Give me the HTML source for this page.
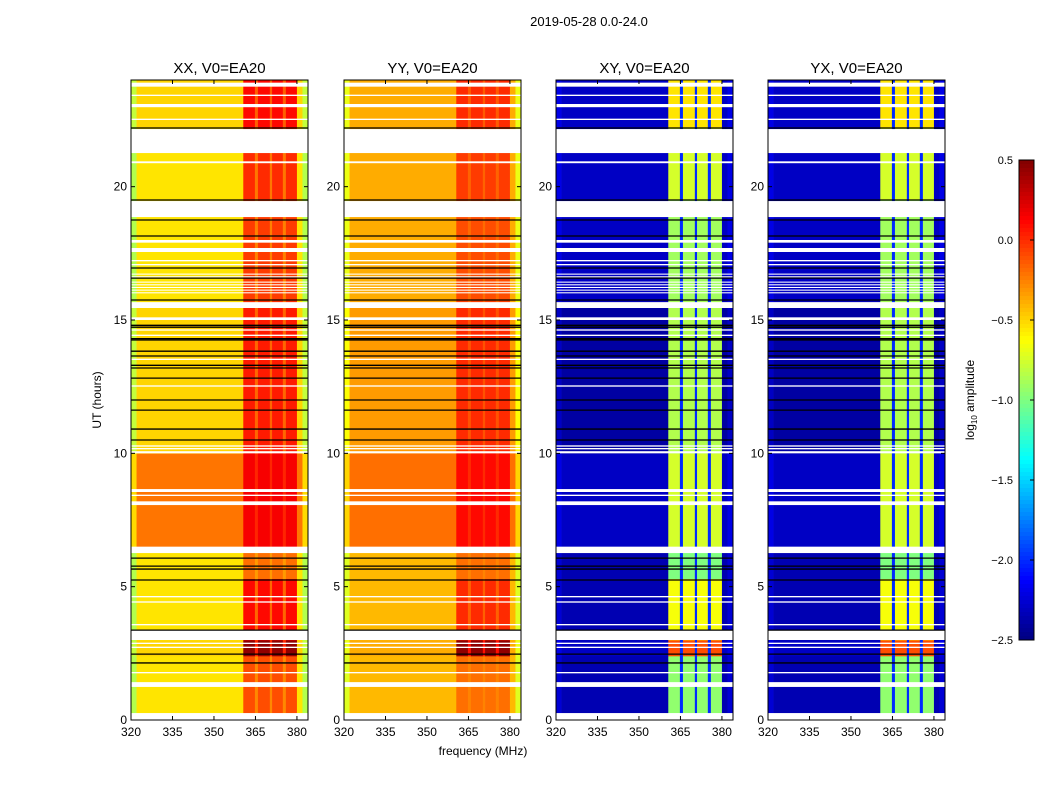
<!DOCTYPE html>
<html><head><meta charset="utf-8"><style>
body{margin:0;background:#fff;}
svg{display:block;font-family:"Liberation Sans","DejaVu Sans",sans-serif;}
</style></head><body>
<svg id="fig" width="1050" height="800" xmlns="http://www.w3.org/2000/svg">
<text x="589" y="26" font-size="13" text-anchor="middle">2019-05-28 0.0-24.0</text>
<text x="483" y="755" font-size="12" text-anchor="middle">frequency (MHz)</text>
<text transform="translate(101,400) rotate(-90)" font-size="12" text-anchor="middle">UT (hours)</text>
<g id="panels"></g>
<g id="cbar"></g>
</svg>
<script>
// ---- data ----
const panelTitles = ["XX, V0=EA20","YY, V0=EA20","XY, V0=EA20","YX, V0=EA20"];
const xTicks = [320,335,350,365,380];
const yTicks = [0,5,10,15,20];
const cbarTicks = [0.5,0.0,-0.5,-1.0,-1.5,-2.0,-2.5];
// time blocks [start, end]
const blockStart = [0,2.4,3.0,5.3,6.5,10,15.7,19.5,22.2];
const blockEnd   = [2.4,3.0,5.3,6.5,10,15.7,19.5,22.2,24];
// per-panel off-band level and in-band level per block
const offXX  = [-0.55,-0.5,-0.55,-0.55,-0.22,-0.5,-0.55,-0.55,-0.5];
const bandXX = [-0.1,0.45,0.1,-0.2,0.15,0.05,-0.05,0.0,0.1];
const offYY  = [-0.42,-0.38,-0.42,-0.42,-0.2,-0.33,-0.38,-0.38,-0.38];
const bandYY = [-0.2,0.45,0.0,-0.2,0.1,0.0,-0.1,-0.05,0.0];
const offXY  = [-2.35,-2.3,-2.35,-2.35,-2.3,-2.4,-2.3,-2.3,-2.3];
const bandXY = [-0.95,-0.1,-0.65,-1.0,-0.75,-0.85,-0.9,-0.75,-0.55];
// frequency columns: edges and type (0 edge,1 off,2 band,3 gap)
const freqStart = [320,322,360.6,364.8,365.9,370.2,371,374.9,376,380,382];
const freqEnd   = [322,360.6,364.8,365.9,370.2,371,374.9,376,380,382,384];
const freqType  = [0,1,2,3,2,3,2,3,2,1,0];
// flagged (white) intervals in hours
const gapStart = [23.75,23.4,22.98,22.5,21.26,20.88,18.86,17.9,17.55,17.2,17.05,16.7,16.6,16.4,16.3,16.2,16.1,16.0,15.45,15.0,14.6,14.4,13.5,12.5,10.25,10.15,10.0,8.55,8.4,8.06,6.26,4.6,4.4,3.55,3.0,2.85,2.7,1.75,1.24,0];
const gapEnd   = [23.9,23.45,23.1,22.55,22.16,20.95,19.46,18.0,17.7,17.25,17.1,16.74,16.64,16.44,16.34,16.24,16.14,16.04,15.67,15.1,14.65,14.45,13.55,12.55,10.3,10.2,10.08,8.66,8.45,8.2,6.5,4.65,4.45,3.6,3.37,2.9,2.75,1.8,1.42,0.26];
// black lines (hours)
const blackLines = [22.2,19.5,18.75,18.15,16.95,16.57,15.75,14.8,14.73,14.3,14.25,13.83,13.65,13.3,13.2,12.82,12.0,11.62,10.91,10.5,6.07,5.77,5.66,5.25,3.37,2.47,2.14];

// ---- layout ----
const NS="http://www.w3.org/2000/svg";
const px0=[131,344,556,768], PW=177, PY0=80, PY1=720;
const fMin=320,fMax=384,tMin=0,tMax=24;
function xs(p,f){return px0[p]+(f-fMin)/(fMax-fMin)*PW;}
function ys(t){return PY1-(t-tMin)/(tMax-tMin)*(PY1-PY0);}
function jet(v){
  let x=(v+2.5)/3; x=Math.max(0,Math.min(1,x));
  const c=t=>Math.max(0,Math.min(1,t));
  const r=c(1.5-Math.abs(4*x-3)), g=c(1.5-Math.abs(4*x-2)), b=c(1.5-Math.abs(4*x-1));
  return `rgb(${Math.round(r*255)},${Math.round(g*255)},${Math.round(b*255)})`;
}
function el(tag,attrs,parent){const e=document.createElementNS(NS,tag);for(const k in attrs)e.setAttribute(k,attrs[k]);parent.appendChild(e);return e;}
const panels=document.getElementById('panels');
const offs=[offXX,offYY,offXY,offXY], bands=[bandXX,bandYY,bandXY,bandXY];
for(let p=0;p<4;p++){
  const g=el('g',{},panels);
  
  
  const cross = p>=2;
  for(let b=0;b<blockStart.length;b++){
    for(let c=0;c<freqStart.length;c++){
      let v, o=offs[p][b], bd=bands[p][b];
      if(freqType[c]===0) v = cross? o+0.1 : o-0.3;
      else if(freqType[c]===1) v=o;
      else if(freqType[c]===2) v=bd;
      else v = cross? -2.0 : (o+bd)/2+0.05;
      const r=el('rect',{x:xs(p,freqStart[c]),y:ys(blockEnd[b]),width:xs(p,freqEnd[c])-xs(p,freqStart[c])+0.3,height:ys(blockStart[b])-ys(blockEnd[b])+0.3,fill:jet(v)},g);
      
      
    }
  }
  for(let i=0;i<gapStart.length;i++){
    const r=el('rect',{x:px0[p],y:ys(gapEnd[i]),width:PW,height:Math.max(1,ys(gapStart[i])-ys(gapEnd[i])),fill:'#fff'},g);
    
    
  }
  for(let i=0;i<blackLines.length;i++){
    const l=el('line',{x1:px0[p],x2:px0[p]+PW,y1:ys(blackLines[i]),y2:ys(blackLines[i]),stroke:'#000','stroke-width':1.3},g);
    
    
  }
  const fr=el('rect',{x:px0[p],y:PY0,width:PW,height:PY1-PY0,fill:'none',stroke:'#000','stroke-width':1},g);
  
  
  const t=el('text',{x:px0[p]+PW/2,y:73,'font-size':15,'text-anchor':'middle'},g);
  t.textContent=panelTitles[p];
  
  
  xTicks.forEach(f=>{
    const x=xs(p,f);
    el('line',{x1:x,x2:x,y1:PY1,y2:PY1-4,stroke:'#000'},g);
    el('line',{x1:x,x2:x,y1:PY0,y2:PY0+4,stroke:'#000'},g);
    const tl=el('text',{x:x,y:736,'font-size':12,'text-anchor':'middle'},g);
    tl.textContent=f;
    
    
  });
  yTicks.forEach(h=>{
    const y=ys(h);
    el('line',{x1:px0[p],x2:px0[p]+4,y1:y,y2:y,stroke:'#000'},g);
    el('line',{x1:px0[p]+PW,x2:px0[p]+PW-4,y1:y,y2:y,stroke:'#000'},g);
    const tl=el('text',{x:px0[p]-4,y:y+4,'font-size':12,'text-anchor':'end'},g);
    tl.textContent=h;
    
    
  });
}
// colorbar
const cb=document.getElementById('cbar');


const CX=1019,CW=15,CY0=160,CY1=640;
for(let i=0;i<120;i++){
  const v=0.5-3*(i+0.5)/120;
  el('rect',{x:CX,y:CY0+i*(CY1-CY0)/120,width:CW,height:(CY1-CY0)/120+0.5,fill:jet(v)},cb);
}
el('rect',{x:CX,y:CY0,width:CW,height:CY1-CY0,fill:'none',stroke:'#000'},cb);
cbarTicks.forEach(v=>{
  const y=CY0+(0.5-v)/3*(CY1-CY0);
  el('line',{x1:CX+CW-4,x2:CX+CW,y1:y,y2:y,stroke:'#000'},cb);
  const t=el('text',{x:1013,y:y+4,'font-size':11,'text-anchor':'end'},cb);
  t.textContent=(v<0?'\u2212':'')+Math.abs(v).toFixed(1);
  
  
});
const cl=el('text',{transform:'translate(974,400) rotate(-90)','font-size':12,'text-anchor':'middle'},cb);
cl.innerHTML='log<tspan font-size="8" dy="3">10</tspan><tspan dy="-3"> amplitude</tspan>';


</script>
</body></html>
